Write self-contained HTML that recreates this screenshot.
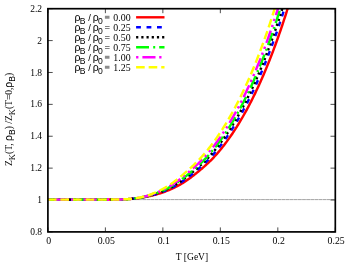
<!DOCTYPE html><html><head><meta charset="utf-8"><style>html,body{margin:0;padding:0;background:#fff}svg{display:block;will-change:transform}</style></head><body><svg width="353" height="263" viewBox="0 0 353 263">
<defs><clipPath id="c"><rect x="47.9" y="8.7" width="287.40000000000003" height="223.20000000000002"/></clipPath></defs>
<path d="M47.90,231.9 v-4.5 M47.90,8.7 v4.5 M105.38,231.9 v-4.5 M105.38,8.7 v4.5 M162.86,231.9 v-4.5 M162.86,8.7 v4.5 M220.34,231.9 v-4.5 M220.34,8.7 v4.5 M277.82,231.9 v-4.5 M277.82,8.7 v4.5 M335.30,231.9 v-4.5 M335.30,8.7 v4.5 M47.9,231.90 h4.8 M335.3,231.90 h-4.8 M47.9,200.01 h4.8 M335.3,200.01 h-4.8 M47.9,168.13 h4.8 M335.3,168.13 h-4.8 M47.9,136.24 h4.8 M335.3,136.24 h-4.8 M47.9,104.36 h4.8 M335.3,104.36 h-4.8 M47.9,72.47 h4.8 M335.3,72.47 h-4.8 M47.9,40.59 h4.8 M335.3,40.59 h-4.8 M47.9,8.70 h4.8 M335.3,8.70 h-4.8" stroke="#000" stroke-width="0.7" fill="none"/>
<line x1="47.9" y1="199.6" x2="335.3" y2="199.6" stroke="#333" stroke-width="0.45" stroke-dasharray="3.8 0.3"/>
<g clip-path="url(#c)"><path d="M47.90,199.60 L48.62,199.60 L49.34,199.60 L50.06,199.60 L50.78,199.60 L51.50,199.60 L52.22,199.60 L52.94,199.60 L53.66,199.60 L54.38,199.60 L55.10,199.60 L55.82,199.60 L56.54,199.60 L57.26,199.60 L57.98,199.60 L58.70,199.60 L59.42,199.60 L60.15,199.60 L60.87,199.60 L61.59,199.60 L62.31,199.60 L63.03,199.60 L63.75,199.60 L64.47,199.60 L65.19,199.60 L65.91,199.60 L66.63,199.60 L67.35,199.60 L68.07,199.60 L68.79,199.60 L69.51,199.60 L70.23,199.60 L70.95,199.60 L71.67,199.60 L72.39,199.60 L73.11,199.60 L73.83,199.60 L74.55,199.60 L75.27,199.60 L75.99,199.60 L76.71,199.60 L77.43,199.60 L78.15,199.60 L78.87,199.60 L79.59,199.60 L80.31,199.60 L81.03,199.60 L81.75,199.60 L82.47,199.60 L83.19,199.60 L83.92,199.60 L84.64,199.60 L85.36,199.60 L86.08,199.60 L86.80,199.60 L87.52,199.60 L88.24,199.60 L88.96,199.60 L89.68,199.60 L90.40,199.60 L91.12,199.60 L91.84,199.60 L92.56,199.60 L93.28,199.60 L94.00,199.60 L94.72,199.60 L95.44,199.60 L96.16,199.60 L96.88,199.60 L97.60,199.60 L98.32,199.60 L99.04,199.60 L99.76,199.60 L100.48,199.60 L101.20,199.60 L101.92,199.60 L102.64,199.60 L103.36,199.60 L104.08,199.60 L104.80,199.60 L105.52,199.60 L106.24,199.60 L106.96,199.60 L107.68,199.59 L108.41,199.59 L109.13,199.59 L109.85,199.59 L110.57,199.58 L111.29,199.58 L112.01,199.58 L112.73,199.57 L113.45,199.57 L114.17,199.56 L114.89,199.55 L115.61,199.54 L116.33,199.53 L117.05,199.52 L117.77,199.51 L118.49,199.49 L119.21,199.48 L119.93,199.46 L120.65,199.44 L121.37,199.42 L122.09,199.40 L122.81,199.37 L123.53,199.34 L124.25,199.31 L124.97,199.28 L125.69,199.24 L126.41,199.21 L127.13,199.16 L127.85,199.12 L128.57,199.07 L129.29,199.02 L130.01,198.97 L130.73,198.91 L131.45,198.85 L132.18,198.79 L132.90,198.73 L133.62,198.66 L134.34,198.58 L135.06,198.50 L135.78,198.42 L136.50,198.34 L137.22,198.25 L137.94,198.16 L138.66,198.06 L139.38,197.96 L140.10,197.86 L140.82,197.75 L141.54,197.64 L142.26,197.53 L142.98,197.41 L143.70,197.28 L144.42,197.16 L145.14,197.02 L145.86,196.89 L146.58,196.75 L147.30,196.60 L148.02,196.46 L148.74,196.30 L149.46,196.15 L150.18,195.98 L150.90,195.82 L151.62,195.65 L152.34,195.47 L153.06,195.29 L153.78,195.11 L154.50,194.92 L155.22,194.73 L155.95,194.53 L156.67,194.33 L157.39,194.12 L158.11,193.91 L158.83,193.69 L159.55,193.47 L160.27,193.24 L160.99,193.00 L161.71,192.77 L162.43,192.52 L163.15,192.27 L163.87,192.02 L164.59,191.76 L165.31,191.49 L166.03,191.22 L166.75,190.95 L167.47,190.66 L168.19,190.37 L168.91,190.08 L169.63,189.78 L170.35,189.47 L171.07,189.15 L171.79,188.83 L172.51,188.51 L173.23,188.17 L173.95,187.83 L174.67,187.48 L175.39,187.13 L176.11,186.76 L176.83,186.39 L177.55,186.01 L178.27,185.62 L178.99,185.23 L179.72,184.82 L180.44,184.41 L181.16,183.99 L181.88,183.56 L182.60,183.12 L183.32,182.67 L184.04,182.21 L184.76,181.75 L185.48,181.27 L186.20,180.78 L186.92,180.29 L187.64,179.79 L188.36,179.28 L189.08,178.76 L189.80,178.23 L190.52,177.70 L191.24,177.16 L191.96,176.61 L192.68,176.06 L193.40,175.50 L194.12,174.94 L194.84,174.37 L195.56,173.80 L196.28,173.22 L197.00,172.64 L197.72,172.05 L198.44,171.46 L199.16,170.87 L199.88,170.27 L200.60,169.67 L201.32,169.06 L202.04,168.45 L202.76,167.83 L203.48,167.20 L204.21,166.57 L204.93,165.93 L205.65,165.29 L206.37,164.63 L207.09,163.97 L207.81,163.30 L208.53,162.61 L209.25,161.92 L209.97,161.22 L210.69,160.51 L211.41,159.78 L212.13,159.05 L212.85,158.30 L213.57,157.54 L214.29,156.77 L215.01,155.99 L215.73,155.19 L216.45,154.39 L217.17,153.57 L217.89,152.74 L218.61,151.90 L219.33,151.04 L220.05,150.18 L220.77,149.30 L221.49,148.41 L222.21,147.51 L222.93,146.60 L223.65,145.67 L224.37,144.74 L225.09,143.79 L225.81,142.83 L226.53,141.86 L227.25,140.88 L227.98,139.89 L228.70,138.89 L229.42,137.87 L230.14,136.84 L230.86,135.80 L231.58,134.75 L232.30,133.69 L233.02,132.61 L233.74,131.52 L234.46,130.42 L235.18,129.31 L235.90,128.19 L236.62,127.05 L237.34,125.90 L238.06,124.74 L238.78,123.57 L239.50,122.38 L240.22,121.18 L240.94,119.97 L241.66,118.74 L242.38,117.50 L243.10,116.25 L243.82,114.98 L244.54,113.71 L245.26,112.41 L245.98,111.11 L246.70,109.79 L247.42,108.46 L248.14,107.11 L248.86,105.75 L249.58,104.37 L250.30,102.98 L251.02,101.58 L251.75,100.16 L252.47,98.73 L253.19,97.28 L253.91,95.82 L254.63,94.34 L255.35,92.85 L256.07,91.34 L256.79,89.82 L257.51,88.28 L258.23,86.73 L258.95,85.16 L259.67,83.58 L260.39,81.98 L261.11,80.36 L261.83,78.73 L262.55,77.08 L263.27,75.42 L263.99,73.73 L264.71,72.04 L265.43,70.32 L266.15,68.59 L266.87,66.85 L267.59,65.08 L268.31,63.30 L269.03,61.50 L269.75,59.68 L270.47,57.85 L271.19,56.00 L271.91,54.13 L272.63,52.24 L273.35,50.34 L274.07,48.41 L274.79,46.47 L275.52,44.51 L276.24,42.53 L276.96,40.53 L277.68,38.52 L278.40,36.48 L279.12,34.42 L279.84,32.35 L280.56,30.25 L281.28,28.14 L282.00,26.01 L282.72,23.85 L283.44,21.68 L284.16,19.49 L284.88,17.27 L285.60,15.04 L286.32,12.78 L287.04,10.50 L287.76,8.21 L288.48,5.89 L289.20,3.55 L289.92,1.18 L290.64,-1.20 L291.36,-3.61 L292.08,-6.04 L292.80,-8.49 L293.52,-10.96 L294.24,-13.45 L294.96,-15.97 L295.68,-18.51 L296.40,-21.08 L297.12,-23.67 L297.84,-26.28 L298.56,-28.91 L299.28,-31.57 L300.01,-34.25 L300.73,-36.96 L301.45,-39.69" fill="none" stroke="#ff0000" stroke-width="2.45"/><path d="M47.90,199.60 L48.62,199.60 L49.34,199.60 L50.06,199.60 L50.78,199.60 L51.50,199.60 L52.22,199.60 L52.94,199.60 L53.66,199.60 L54.38,199.60 L55.10,199.60 L55.82,199.60 L56.54,199.60 L57.26,199.60 L57.98,199.60 L58.70,199.60 L59.42,199.60 L60.15,199.60 L60.87,199.60 L61.59,199.60 L62.31,199.60 L63.03,199.60 L63.75,199.60 L64.47,199.60 L65.19,199.60 L65.91,199.60 L66.63,199.60 L67.35,199.60 L68.07,199.60 L68.79,199.60 L69.51,199.60 L70.23,199.60 L70.95,199.60 L71.67,199.60 L72.39,199.60 L73.11,199.60 L73.83,199.60 L74.55,199.60 L75.27,199.60 L75.99,199.60 L76.71,199.60 L77.43,199.60 L78.15,199.60 L78.87,199.60 L79.59,199.60 L80.31,199.60 L81.03,199.60 L81.75,199.60 L82.47,199.60 L83.19,199.60 L83.92,199.60 L84.64,199.60 L85.36,199.60 L86.08,199.60 L86.80,199.60 L87.52,199.60 L88.24,199.60 L88.96,199.60 L89.68,199.60 L90.40,199.60 L91.12,199.60 L91.84,199.60 L92.56,199.60 L93.28,199.60 L94.00,199.60 L94.72,199.60 L95.44,199.60 L96.16,199.60 L96.88,199.60 L97.60,199.60 L98.32,199.60 L99.04,199.60 L99.76,199.60 L100.48,199.60 L101.20,199.60 L101.92,199.60 L102.64,199.60 L103.36,199.60 L104.08,199.60 L104.80,199.60 L105.52,199.60 L106.24,199.60 L106.96,199.60 L107.68,199.59 L108.41,199.59 L109.13,199.59 L109.85,199.59 L110.57,199.58 L111.29,199.58 L112.01,199.58 L112.73,199.57 L113.45,199.57 L114.17,199.56 L114.89,199.55 L115.61,199.54 L116.33,199.53 L117.05,199.52 L117.77,199.51 L118.49,199.49 L119.21,199.48 L119.93,199.46 L120.65,199.44 L121.37,199.42 L122.09,199.40 L122.81,199.37 L123.53,199.34 L124.25,199.31 L124.97,199.28 L125.69,199.24 L126.41,199.21 L127.13,199.16 L127.85,199.12 L128.57,199.07 L129.29,199.02 L130.01,198.97 L130.73,198.91 L131.45,198.85 L132.18,198.78 L132.90,198.71 L133.62,198.63 L134.34,198.55 L135.06,198.47 L135.78,198.38 L136.50,198.29 L137.22,198.19 L137.94,198.09 L138.66,197.99 L139.38,197.88 L140.10,197.76 L140.82,197.64 L141.54,197.52 L142.26,197.39 L142.98,197.26 L143.70,197.12 L144.42,196.97 L145.14,196.83 L145.86,196.67 L146.58,196.52 L147.30,196.35 L148.02,196.19 L148.74,196.02 L149.46,195.84 L150.18,195.66 L150.90,195.47 L151.62,195.28 L152.34,195.08 L153.06,194.88 L153.78,194.67 L154.50,194.46 L155.22,194.24 L155.95,194.02 L156.67,193.79 L157.39,193.56 L158.11,193.32 L158.83,193.07 L159.55,192.82 L160.27,192.56 L160.99,192.30 L161.71,192.04 L162.43,191.76 L163.15,191.48 L163.87,191.20 L164.59,190.91 L165.31,190.61 L166.03,190.31 L166.75,190.00 L167.47,189.68 L168.19,189.36 L168.91,189.03 L169.63,188.69 L170.35,188.35 L171.07,188.00 L171.79,187.64 L172.51,187.28 L173.23,186.90 L173.95,186.52 L174.67,186.13 L175.39,185.74 L176.11,185.33 L176.83,184.92 L177.55,184.50 L178.27,184.06 L178.99,183.62 L179.72,183.18 L180.44,182.72 L181.16,182.25 L181.88,181.77 L182.60,181.29 L183.32,180.79 L184.04,180.29 L184.76,179.78 L185.48,179.26 L186.20,178.73 L186.92,178.19 L187.64,177.65 L188.36,177.10 L189.08,176.55 L189.80,175.98 L190.52,175.42 L191.24,174.85 L191.96,174.27 L192.68,173.69 L193.40,173.10 L194.12,172.51 L194.84,171.92 L195.56,171.32 L196.28,170.72 L197.00,170.12 L197.72,169.51 L198.44,168.89 L199.16,168.27 L199.88,167.65 L200.60,167.02 L201.32,166.38 L202.04,165.73 L202.76,165.08 L203.48,164.42 L204.21,163.75 L204.93,163.07 L205.65,162.38 L206.37,161.68 L207.09,160.97 L207.81,160.25 L208.53,159.52 L209.25,158.78 L209.97,158.02 L210.69,157.25 L211.41,156.48 L212.13,155.69 L212.85,154.89 L213.57,154.07 L214.29,153.25 L215.01,152.41 L215.73,151.56 L216.45,150.70 L217.17,149.83 L217.89,148.94 L218.61,148.05 L219.33,147.14 L220.05,146.22 L220.77,145.29 L221.49,144.35 L222.21,143.40 L222.93,142.43 L223.65,141.46 L224.37,140.47 L225.09,139.47 L225.81,138.46 L226.53,137.44 L227.25,136.40 L227.98,135.36 L228.70,134.30 L229.42,133.23 L230.14,132.15 L230.86,131.05 L231.58,129.95 L232.30,128.83 L233.02,127.70 L233.74,126.56 L234.46,125.40 L235.18,124.23 L235.90,123.05 L236.62,121.86 L237.34,120.65 L238.06,119.43 L238.78,118.20 L239.50,116.96 L240.22,115.70 L240.94,114.43 L241.66,113.14 L242.38,111.84 L243.10,110.53 L243.82,109.21 L244.54,107.87 L245.26,106.51 L245.98,105.15 L246.70,103.76 L247.42,102.37 L248.14,100.96 L248.86,99.53 L249.58,98.09 L250.30,96.64 L251.02,95.17 L251.75,93.69 L252.47,92.19 L253.19,90.67 L253.91,89.14 L254.63,87.60 L255.35,86.04 L256.07,84.46 L256.79,82.87 L257.51,81.26 L258.23,79.64 L258.95,78.00 L259.67,76.35 L260.39,74.68 L261.11,72.99 L261.83,71.28 L262.55,69.56 L263.27,67.82 L263.99,66.07 L264.71,64.30 L265.43,62.51 L266.15,60.70 L266.87,58.88 L267.59,57.03 L268.31,55.17 L269.03,53.30 L269.75,51.40 L270.47,49.49 L271.19,47.56 L271.91,45.61 L272.63,43.64 L273.35,41.65 L274.07,39.64 L274.79,37.62 L275.52,35.57 L276.24,33.51 L276.96,31.43 L277.68,29.32 L278.40,27.20 L279.12,25.06 L279.84,22.89 L280.56,20.71 L281.28,18.51 L282.00,16.28 L282.72,14.04 L283.44,11.78 L284.16,9.49 L284.88,7.18 L285.60,4.85 L286.32,2.50 L287.04,0.13 L287.76,-2.26 L288.48,-4.68 L289.20,-7.12 L289.92,-9.58 L290.64,-12.06 L291.36,-14.57 L292.08,-17.09 L292.80,-19.65 L293.52,-22.22 L294.24,-24.82 L294.96,-27.44 L295.68,-30.09 L296.40,-32.75 L297.12,-35.45 L297.84,-38.17" fill="none" stroke="#0000ff" stroke-width="2.45" stroke-dasharray="4.8 5.65" stroke-dashoffset="0"/><path d="M47.90,199.60 L48.62,199.60 L49.34,199.60 L50.06,199.60 L50.78,199.60 L51.50,199.60 L52.22,199.60 L52.94,199.60 L53.66,199.60 L54.38,199.60 L55.10,199.60 L55.82,199.60 L56.54,199.60 L57.26,199.60 L57.98,199.60 L58.70,199.60 L59.42,199.60 L60.15,199.60 L60.87,199.60 L61.59,199.60 L62.31,199.60 L63.03,199.60 L63.75,199.60 L64.47,199.60 L65.19,199.60 L65.91,199.60 L66.63,199.60 L67.35,199.60 L68.07,199.60 L68.79,199.60 L69.51,199.60 L70.23,199.60 L70.95,199.60 L71.67,199.60 L72.39,199.60 L73.11,199.60 L73.83,199.60 L74.55,199.60 L75.27,199.60 L75.99,199.60 L76.71,199.60 L77.43,199.60 L78.15,199.60 L78.87,199.60 L79.59,199.60 L80.31,199.60 L81.03,199.60 L81.75,199.60 L82.47,199.60 L83.19,199.60 L83.92,199.60 L84.64,199.60 L85.36,199.60 L86.08,199.60 L86.80,199.60 L87.52,199.60 L88.24,199.60 L88.96,199.60 L89.68,199.60 L90.40,199.60 L91.12,199.60 L91.84,199.60 L92.56,199.60 L93.28,199.60 L94.00,199.60 L94.72,199.60 L95.44,199.60 L96.16,199.60 L96.88,199.60 L97.60,199.60 L98.32,199.60 L99.04,199.60 L99.76,199.60 L100.48,199.60 L101.20,199.60 L101.92,199.60 L102.64,199.60 L103.36,199.60 L104.08,199.60 L104.80,199.60 L105.52,199.60 L106.24,199.60 L106.96,199.60 L107.68,199.59 L108.41,199.59 L109.13,199.59 L109.85,199.59 L110.57,199.58 L111.29,199.58 L112.01,199.58 L112.73,199.57 L113.45,199.57 L114.17,199.56 L114.89,199.55 L115.61,199.54 L116.33,199.53 L117.05,199.52 L117.77,199.51 L118.49,199.49 L119.21,199.48 L119.93,199.46 L120.65,199.44 L121.37,199.42 L122.09,199.40 L122.81,199.37 L123.53,199.34 L124.25,199.31 L124.97,199.28 L125.69,199.24 L126.41,199.21 L127.13,199.16 L127.85,199.12 L128.57,199.07 L129.29,199.02 L130.01,198.96 L130.73,198.90 L131.45,198.84 L132.18,198.77 L132.90,198.70 L133.62,198.62 L134.34,198.53 L135.06,198.45 L135.78,198.35 L136.50,198.26 L137.22,198.15 L137.94,198.05 L138.66,197.93 L139.38,197.82 L140.10,197.69 L140.82,197.57 L141.54,197.43 L142.26,197.30 L142.98,197.15 L143.70,197.01 L144.42,196.85 L145.14,196.69 L145.86,196.53 L146.58,196.36 L147.30,196.18 L148.02,196.00 L148.74,195.82 L149.46,195.63 L150.18,195.43 L150.90,195.23 L151.62,195.02 L152.34,194.81 L153.06,194.59 L153.78,194.37 L154.50,194.14 L155.22,193.91 L155.95,193.67 L156.67,193.42 L157.39,193.17 L158.11,192.91 L158.83,192.65 L159.55,192.38 L160.27,192.10 L160.99,191.82 L161.71,191.53 L162.43,191.24 L163.15,190.94 L163.87,190.63 L164.59,190.32 L165.31,190.00 L166.03,189.67 L166.75,189.34 L167.47,189.00 L168.19,188.65 L168.91,188.30 L169.63,187.94 L170.35,187.57 L171.07,187.19 L171.79,186.81 L172.51,186.42 L173.23,186.02 L173.95,185.61 L174.67,185.19 L175.39,184.76 L176.11,184.33 L176.83,183.89 L177.55,183.43 L178.27,182.97 L178.99,182.50 L179.72,182.02 L180.44,181.53 L181.16,181.03 L181.88,180.52 L182.60,180.01 L183.32,179.48 L184.04,178.95 L184.76,178.41 L185.48,177.86 L186.20,177.31 L186.92,176.75 L187.64,176.18 L188.36,175.61 L189.08,175.04 L189.80,174.45 L190.52,173.87 L191.24,173.28 L191.96,172.69 L192.68,172.09 L193.40,171.49 L194.12,170.88 L194.84,170.27 L195.56,169.66 L196.28,169.04 L197.00,168.42 L197.72,167.79 L198.44,167.15 L199.16,166.51 L199.88,165.86 L200.60,165.21 L201.32,164.55 L202.04,163.87 L202.76,163.19 L203.48,162.50 L204.21,161.80 L204.93,161.09 L205.65,160.37 L206.37,159.64 L207.09,158.89 L207.81,158.14 L208.53,157.37 L209.25,156.59 L209.97,155.80 L210.69,155.00 L211.41,154.18 L212.13,153.36 L212.85,152.52 L213.57,151.67 L214.29,150.81 L215.01,149.94 L215.73,149.05 L216.45,148.16 L217.17,147.25 L217.89,146.33 L218.61,145.40 L219.33,144.46 L220.05,143.50 L220.77,142.54 L221.49,141.56 L222.21,140.58 L222.93,139.58 L223.65,138.57 L224.37,137.54 L225.09,136.51 L225.81,135.46 L226.53,134.41 L227.25,133.34 L227.98,132.25 L228.70,131.16 L229.42,130.06 L230.14,128.94 L230.86,127.81 L231.58,126.67 L232.30,125.51 L233.02,124.34 L233.74,123.16 L234.46,121.97 L235.18,120.77 L235.90,119.55 L236.62,118.32 L237.34,117.07 L238.06,115.81 L238.78,114.54 L239.50,113.26 L240.22,111.96 L240.94,110.65 L241.66,109.33 L242.38,107.99 L243.10,106.63 L243.82,105.27 L244.54,103.89 L245.26,102.49 L245.98,101.08 L246.70,99.66 L247.42,98.22 L248.14,96.77 L248.86,95.30 L249.58,93.81 L250.30,92.32 L251.02,90.80 L251.75,89.28 L252.47,87.73 L253.19,86.17 L253.91,84.60 L254.63,83.01 L255.35,81.40 L256.07,79.78 L256.79,78.14 L257.51,76.49 L258.23,74.82 L258.95,73.13 L259.67,71.43 L260.39,69.71 L261.11,67.97 L261.83,66.22 L262.55,64.45 L263.27,62.66 L263.99,60.85 L264.71,59.03 L265.43,57.19 L266.15,55.33 L266.87,53.46 L267.59,51.56 L268.31,49.65 L269.03,47.72 L269.75,45.77 L270.47,43.80 L271.19,41.82 L271.91,39.81 L272.63,37.79 L273.35,35.75 L274.07,33.68 L274.79,31.60 L275.52,29.50 L276.24,27.38 L276.96,25.24 L277.68,23.08 L278.40,20.90 L279.12,18.70 L279.84,16.47 L280.56,14.23 L281.28,11.97 L282.00,9.68 L282.72,7.38 L283.44,5.05 L284.16,2.70 L284.88,0.33 L285.60,-2.06 L286.32,-4.47 L287.04,-6.91 L287.76,-9.37 L288.48,-11.85 L289.20,-14.35 L289.92,-16.88 L290.64,-19.43 L291.36,-22.00 L292.08,-24.60 L292.80,-27.22 L293.52,-29.86 L294.24,-32.53 L294.96,-35.22 L295.68,-37.94" fill="none" stroke="#000000" stroke-width="2.45" stroke-dasharray="2.2 3.0" stroke-dashoffset="0"/><path d="M47.90,199.60 L48.62,199.60 L49.34,199.60 L50.06,199.60 L50.78,199.60 L51.50,199.60 L52.22,199.60 L52.94,199.60 L53.66,199.60 L54.38,199.60 L55.10,199.60 L55.82,199.60 L56.54,199.60 L57.26,199.60 L57.98,199.60 L58.70,199.60 L59.42,199.60 L60.15,199.60 L60.87,199.60 L61.59,199.60 L62.31,199.60 L63.03,199.60 L63.75,199.60 L64.47,199.60 L65.19,199.60 L65.91,199.60 L66.63,199.60 L67.35,199.60 L68.07,199.60 L68.79,199.60 L69.51,199.60 L70.23,199.60 L70.95,199.60 L71.67,199.60 L72.39,199.60 L73.11,199.60 L73.83,199.60 L74.55,199.60 L75.27,199.60 L75.99,199.60 L76.71,199.60 L77.43,199.60 L78.15,199.60 L78.87,199.60 L79.59,199.60 L80.31,199.60 L81.03,199.60 L81.75,199.60 L82.47,199.60 L83.19,199.60 L83.92,199.60 L84.64,199.60 L85.36,199.60 L86.08,199.60 L86.80,199.60 L87.52,199.60 L88.24,199.60 L88.96,199.60 L89.68,199.60 L90.40,199.60 L91.12,199.60 L91.84,199.60 L92.56,199.60 L93.28,199.60 L94.00,199.60 L94.72,199.60 L95.44,199.60 L96.16,199.60 L96.88,199.60 L97.60,199.60 L98.32,199.60 L99.04,199.60 L99.76,199.60 L100.48,199.60 L101.20,199.60 L101.92,199.60 L102.64,199.60 L103.36,199.60 L104.08,199.60 L104.80,199.60 L105.52,199.60 L106.24,199.60 L106.96,199.60 L107.68,199.59 L108.41,199.59 L109.13,199.59 L109.85,199.59 L110.57,199.58 L111.29,199.58 L112.01,199.58 L112.73,199.57 L113.45,199.57 L114.17,199.56 L114.89,199.55 L115.61,199.54 L116.33,199.53 L117.05,199.52 L117.77,199.51 L118.49,199.49 L119.21,199.48 L119.93,199.46 L120.65,199.44 L121.37,199.42 L122.09,199.40 L122.81,199.37 L123.53,199.34 L124.25,199.31 L124.97,199.28 L125.69,199.24 L126.41,199.21 L127.13,199.16 L127.85,199.12 L128.57,199.07 L129.29,199.02 L130.01,198.96 L130.73,198.90 L131.45,198.83 L132.18,198.76 L132.90,198.68 L133.62,198.60 L134.34,198.52 L135.06,198.42 L135.78,198.33 L136.50,198.22 L137.22,198.12 L137.94,198.00 L138.66,197.88 L139.38,197.76 L140.10,197.63 L140.82,197.49 L141.54,197.35 L142.26,197.21 L142.98,197.05 L143.70,196.90 L144.42,196.73 L145.14,196.56 L145.86,196.39 L146.58,196.21 L147.30,196.02 L148.02,195.83 L148.74,195.63 L149.46,195.42 L150.18,195.21 L150.90,195.00 L151.62,194.77 L152.34,194.55 L153.06,194.31 L153.78,194.07 L154.50,193.83 L155.22,193.58 L155.95,193.32 L156.67,193.05 L157.39,192.78 L158.11,192.51 L158.83,192.22 L159.55,191.94 L160.27,191.64 L160.99,191.34 L161.71,191.03 L162.43,190.72 L163.15,190.39 L163.87,190.07 L164.59,189.73 L165.31,189.39 L166.03,189.04 L166.75,188.68 L167.47,188.32 L168.19,187.95 L168.91,187.57 L169.63,187.18 L170.35,186.79 L171.07,186.39 L171.79,185.98 L172.51,185.56 L173.23,185.13 L173.95,184.69 L174.67,184.25 L175.39,183.79 L176.11,183.33 L176.83,182.85 L177.55,182.37 L178.27,181.88 L178.99,181.38 L179.72,180.86 L180.44,180.35 L181.16,179.82 L181.88,179.28 L182.60,178.74 L183.32,178.19 L184.04,177.63 L184.76,177.06 L185.48,176.49 L186.20,175.92 L186.92,175.33 L187.64,174.75 L188.36,174.16 L189.08,173.56 L189.80,172.96 L190.52,172.36 L191.24,171.76 L191.96,171.15 L192.68,170.53 L193.40,169.92 L194.12,169.29 L194.84,168.67 L195.56,168.04 L196.28,167.40 L197.00,166.76 L197.72,166.11 L198.44,165.45 L199.16,164.78 L199.88,164.11 L200.60,163.43 L201.32,162.74 L202.04,162.04 L202.76,161.33 L203.48,160.60 L204.21,159.87 L204.93,159.13 L205.65,158.37 L206.37,157.61 L207.09,156.83 L207.81,156.04 L208.53,155.24 L209.25,154.42 L209.97,153.60 L210.69,152.76 L211.41,151.91 L212.13,151.05 L212.85,150.18 L213.57,149.29 L214.29,148.40 L215.01,147.49 L215.73,146.57 L216.45,145.64 L217.17,144.70 L217.89,143.75 L218.61,142.79 L219.33,141.81 L220.05,140.83 L220.77,139.83 L221.49,138.82 L222.21,137.80 L222.93,136.77 L223.65,135.72 L224.37,134.66 L225.09,133.60 L225.81,132.52 L226.53,131.43 L227.25,130.32 L227.98,129.21 L228.70,128.08 L229.42,126.94 L230.14,125.79 L230.86,124.62 L231.58,123.44 L232.30,122.25 L233.02,121.05 L233.74,119.83 L234.46,118.60 L235.18,117.36 L235.90,116.11 L236.62,114.84 L237.34,113.56 L238.06,112.26 L238.78,110.95 L239.50,109.63 L240.22,108.29 L240.94,106.94 L241.66,105.58 L242.38,104.20 L243.10,102.81 L243.82,101.40 L244.54,99.98 L245.26,98.55 L245.98,97.10 L246.70,95.63 L247.42,94.15 L248.14,92.66 L248.86,91.15 L249.58,89.62 L250.30,88.08 L251.02,86.53 L251.75,84.96 L252.47,83.37 L253.19,81.77 L253.91,80.15 L254.63,78.51 L255.35,76.86 L256.07,75.20 L256.79,73.51 L257.51,71.81 L258.23,70.10 L258.95,68.36 L259.67,66.61 L260.39,64.85 L261.11,63.06 L261.83,61.26 L262.55,59.44 L263.27,57.60 L263.99,55.75 L264.71,53.88 L265.43,51.99 L266.15,50.08 L266.87,48.15 L267.59,46.21 L268.31,44.25 L269.03,42.26 L269.75,40.26 L270.47,38.24 L271.19,36.21 L271.91,34.15 L272.63,32.07 L273.35,29.97 L274.07,27.86 L274.79,25.72 L275.52,23.56 L276.24,21.39 L276.96,19.19 L277.68,16.97 L278.40,14.73 L279.12,12.48 L279.84,10.20 L280.56,7.89 L281.28,5.57 L282.00,3.23 L282.72,0.86 L283.44,-1.52 L284.16,-3.93 L284.88,-6.36 L285.60,-8.82 L286.32,-11.29 L287.04,-13.79 L287.76,-16.31 L288.48,-18.86 L289.20,-21.42 L289.92,-24.02 L290.64,-26.63 L291.36,-29.27 L292.08,-31.93 L292.80,-34.62 L293.52,-37.33" fill="none" stroke="#00ff00" stroke-width="2.45" stroke-dasharray="12.9 4.2 2 4" stroke-dashoffset="0"/><path d="M47.90,199.60 L48.62,199.60 L49.34,199.60 L50.06,199.60 L50.78,199.60 L51.50,199.60 L52.22,199.60 L52.94,199.60 L53.66,199.60 L54.38,199.60 L55.10,199.60 L55.82,199.60 L56.54,199.60 L57.26,199.60 L57.98,199.60 L58.70,199.60 L59.42,199.60 L60.15,199.60 L60.87,199.60 L61.59,199.60 L62.31,199.60 L63.03,199.60 L63.75,199.60 L64.47,199.60 L65.19,199.60 L65.91,199.60 L66.63,199.60 L67.35,199.60 L68.07,199.60 L68.79,199.60 L69.51,199.60 L70.23,199.60 L70.95,199.60 L71.67,199.60 L72.39,199.60 L73.11,199.60 L73.83,199.60 L74.55,199.60 L75.27,199.60 L75.99,199.60 L76.71,199.60 L77.43,199.60 L78.15,199.60 L78.87,199.60 L79.59,199.60 L80.31,199.60 L81.03,199.60 L81.75,199.60 L82.47,199.60 L83.19,199.60 L83.92,199.60 L84.64,199.60 L85.36,199.60 L86.08,199.60 L86.80,199.60 L87.52,199.60 L88.24,199.60 L88.96,199.60 L89.68,199.60 L90.40,199.60 L91.12,199.60 L91.84,199.60 L92.56,199.60 L93.28,199.60 L94.00,199.60 L94.72,199.60 L95.44,199.60 L96.16,199.60 L96.88,199.60 L97.60,199.60 L98.32,199.60 L99.04,199.60 L99.76,199.60 L100.48,199.60 L101.20,199.60 L101.92,199.60 L102.64,199.60 L103.36,199.60 L104.08,199.60 L104.80,199.60 L105.52,199.60 L106.24,199.60 L106.96,199.60 L107.68,199.59 L108.41,199.59 L109.13,199.59 L109.85,199.59 L110.57,199.58 L111.29,199.58 L112.01,199.58 L112.73,199.57 L113.45,199.57 L114.17,199.56 L114.89,199.55 L115.61,199.54 L116.33,199.53 L117.05,199.52 L117.77,199.51 L118.49,199.49 L119.21,199.48 L119.93,199.46 L120.65,199.44 L121.37,199.42 L122.09,199.40 L122.81,199.37 L123.53,199.34 L124.25,199.31 L124.97,199.28 L125.69,199.24 L126.41,199.21 L127.13,199.16 L127.85,199.12 L128.57,199.07 L129.29,199.02 L130.01,198.96 L130.73,198.89 L131.45,198.83 L132.18,198.75 L132.90,198.67 L133.62,198.59 L134.34,198.49 L135.06,198.40 L135.78,198.29 L136.50,198.19 L137.22,198.07 L137.94,197.95 L138.66,197.82 L139.38,197.69 L140.10,197.55 L140.82,197.40 L141.54,197.25 L142.26,197.09 L142.98,196.93 L143.70,196.76 L144.42,196.58 L145.14,196.40 L145.86,196.21 L146.58,196.01 L147.30,195.81 L148.02,195.60 L148.74,195.39 L149.46,195.17 L150.18,194.94 L150.90,194.70 L151.62,194.46 L152.34,194.22 L153.06,193.96 L153.78,193.70 L154.50,193.44 L155.22,193.16 L155.95,192.88 L156.67,192.60 L157.39,192.30 L158.11,192.00 L158.83,191.70 L159.55,191.38 L160.27,191.06 L160.99,190.74 L161.71,190.40 L162.43,190.06 L163.15,189.71 L163.87,189.36 L164.59,188.99 L165.31,188.62 L166.03,188.25 L166.75,187.86 L167.47,187.47 L168.19,187.06 L168.91,186.65 L169.63,186.24 L170.35,185.81 L171.07,185.37 L171.79,184.93 L172.51,184.47 L173.23,184.01 L173.95,183.53 L174.67,183.05 L175.39,182.56 L176.11,182.06 L176.83,181.55 L177.55,181.02 L178.27,180.50 L178.99,179.96 L179.72,179.41 L180.44,178.86 L181.16,178.30 L181.88,177.73 L182.60,177.15 L183.32,176.57 L184.04,175.98 L184.76,175.39 L185.48,174.80 L186.20,174.20 L186.92,173.59 L187.64,172.98 L188.36,172.37 L189.08,171.76 L189.80,171.14 L190.52,170.52 L191.24,169.89 L191.96,169.26 L192.68,168.63 L193.40,167.99 L194.12,167.34 L194.84,166.69 L195.56,166.03 L196.28,165.37 L197.00,164.70 L197.72,164.02 L198.44,163.33 L199.16,162.63 L199.88,161.92 L200.60,161.20 L201.32,160.47 L202.04,159.73 L202.76,158.98 L203.48,158.22 L204.21,157.44 L204.93,156.66 L205.65,155.86 L206.37,155.05 L207.09,154.23 L207.81,153.40 L208.53,152.56 L209.25,151.70 L209.97,150.83 L210.69,149.95 L211.41,149.06 L212.13,148.16 L212.85,147.25 L213.57,146.33 L214.29,145.39 L215.01,144.44 L215.73,143.48 L216.45,142.51 L217.17,141.53 L217.89,140.54 L218.61,139.54 L219.33,138.52 L220.05,137.50 L220.77,136.46 L221.49,135.41 L222.21,134.35 L222.93,133.27 L223.65,132.19 L224.37,131.09 L225.09,129.98 L225.81,128.86 L226.53,127.73 L227.25,126.58 L227.98,125.42 L228.70,124.25 L229.42,123.07 L230.14,121.87 L230.86,120.67 L231.58,119.45 L232.30,118.21 L233.02,116.96 L233.74,115.70 L234.46,114.43 L235.18,113.14 L235.90,111.84 L236.62,110.53 L237.34,109.20 L238.06,107.86 L238.78,106.50 L239.50,105.13 L240.22,103.75 L240.94,102.35 L241.66,100.94 L242.38,99.52 L243.10,98.08 L243.82,96.62 L244.54,95.15 L245.26,93.66 L245.98,92.16 L246.70,90.65 L247.42,89.12 L248.14,87.57 L248.86,86.01 L249.58,84.44 L250.30,82.84 L251.02,81.24 L251.75,79.61 L252.47,77.97 L253.19,76.32 L253.91,74.64 L254.63,72.95 L255.35,71.25 L256.07,69.53 L256.79,67.79 L257.51,66.03 L258.23,64.26 L258.95,62.47 L259.67,60.66 L260.39,58.84 L261.11,56.99 L261.83,55.13 L262.55,53.25 L263.27,51.36 L263.99,49.44 L264.71,47.51 L265.43,45.56 L266.15,43.59 L266.87,41.60 L267.59,39.60 L268.31,37.57 L269.03,35.53 L269.75,33.46 L270.47,31.38 L271.19,29.27 L271.91,27.15 L272.63,25.01 L273.35,22.84 L274.07,20.66 L274.79,18.46 L275.52,16.23 L276.24,13.99 L276.96,11.72 L277.68,9.43 L278.40,7.13 L279.12,4.80 L279.84,2.45 L280.56,0.07 L281.28,-2.32 L282.00,-4.74 L282.72,-7.18 L283.44,-9.64 L284.16,-12.12 L284.88,-14.63 L285.60,-17.15 L286.32,-19.71 L287.04,-22.28 L287.76,-24.88 L288.48,-27.50 L289.20,-30.15 L289.92,-32.82 L290.64,-35.51 L291.36,-38.23" fill="none" stroke="#ff00ff" stroke-width="2.45" stroke-dasharray="13.1 3.7 2.3 4 2.3 4" stroke-dashoffset="23.1"/><path d="M47.90,199.60 L48.62,199.60 L49.34,199.60 L50.06,199.60 L50.78,199.60 L51.50,199.60 L52.22,199.60 L52.94,199.60 L53.66,199.60 L54.38,199.60 L55.10,199.60 L55.82,199.60 L56.54,199.60 L57.26,199.60 L57.98,199.60 L58.70,199.60 L59.42,199.60 L60.15,199.60 L60.87,199.60 L61.59,199.60 L62.31,199.60 L63.03,199.60 L63.75,199.60 L64.47,199.60 L65.19,199.60 L65.91,199.60 L66.63,199.60 L67.35,199.60 L68.07,199.60 L68.79,199.60 L69.51,199.60 L70.23,199.60 L70.95,199.60 L71.67,199.60 L72.39,199.60 L73.11,199.60 L73.83,199.60 L74.55,199.60 L75.27,199.60 L75.99,199.60 L76.71,199.60 L77.43,199.60 L78.15,199.60 L78.87,199.60 L79.59,199.60 L80.31,199.60 L81.03,199.60 L81.75,199.60 L82.47,199.60 L83.19,199.60 L83.92,199.60 L84.64,199.60 L85.36,199.60 L86.08,199.60 L86.80,199.60 L87.52,199.60 L88.24,199.60 L88.96,199.60 L89.68,199.60 L90.40,199.60 L91.12,199.60 L91.84,199.60 L92.56,199.60 L93.28,199.60 L94.00,199.60 L94.72,199.60 L95.44,199.60 L96.16,199.60 L96.88,199.60 L97.60,199.60 L98.32,199.60 L99.04,199.60 L99.76,199.60 L100.48,199.60 L101.20,199.60 L101.92,199.60 L102.64,199.60 L103.36,199.60 L104.08,199.60 L104.80,199.60 L105.52,199.60 L106.24,199.60 L106.96,199.60 L107.68,199.59 L108.41,199.59 L109.13,199.59 L109.85,199.59 L110.57,199.58 L111.29,199.58 L112.01,199.58 L112.73,199.57 L113.45,199.57 L114.17,199.56 L114.89,199.55 L115.61,199.54 L116.33,199.53 L117.05,199.52 L117.77,199.51 L118.49,199.49 L119.21,199.48 L119.93,199.46 L120.65,199.44 L121.37,199.42 L122.09,199.40 L122.81,199.37 L123.53,199.34 L124.25,199.31 L124.97,199.28 L125.69,199.24 L126.41,199.21 L127.13,199.16 L127.85,199.12 L128.57,199.07 L129.29,199.02 L130.01,198.96 L130.73,198.89 L131.45,198.82 L132.18,198.74 L132.90,198.65 L133.62,198.56 L134.34,198.46 L135.06,198.36 L135.78,198.25 L136.50,198.13 L137.22,198.01 L137.94,197.88 L138.66,197.74 L139.38,197.59 L140.10,197.44 L140.82,197.28 L141.54,197.12 L142.26,196.94 L142.98,196.76 L143.70,196.57 L144.42,196.38 L145.14,196.18 L145.86,195.97 L146.58,195.75 L147.30,195.53 L148.02,195.30 L148.74,195.06 L149.46,194.81 L150.18,194.56 L150.90,194.30 L151.62,194.03 L152.34,193.76 L153.06,193.48 L153.78,193.19 L154.50,192.89 L155.22,192.59 L155.95,192.28 L156.67,191.96 L157.39,191.63 L158.11,191.30 L158.83,190.96 L159.55,190.61 L160.27,190.25 L160.99,189.89 L161.71,189.52 L162.43,189.14 L163.15,188.75 L163.87,188.36 L164.59,187.96 L165.31,187.54 L166.03,187.12 L166.75,186.69 L167.47,186.26 L168.19,185.81 L168.91,185.35 L169.63,184.89 L170.35,184.41 L171.07,183.92 L171.79,183.43 L172.51,182.92 L173.23,182.41 L173.95,181.88 L174.67,181.35 L175.39,180.81 L176.11,180.25 L176.83,179.69 L177.55,179.12 L178.27,178.55 L178.99,177.96 L179.72,177.37 L180.44,176.77 L181.16,176.17 L181.88,175.56 L182.60,174.95 L183.32,174.34 L184.04,173.72 L184.76,173.09 L185.48,172.47 L186.20,171.84 L186.92,171.20 L187.64,170.57 L188.36,169.93 L189.08,169.29 L189.80,168.64 L190.52,167.99 L191.24,167.33 L191.96,166.67 L192.68,166.00 L193.40,165.32 L194.12,164.64 L194.84,163.95 L195.56,163.24 L196.28,162.53 L197.00,161.81 L197.72,161.08 L198.44,160.34 L199.16,159.59 L199.88,158.83 L200.60,158.06 L201.32,157.27 L202.04,156.48 L202.76,155.67 L203.48,154.85 L204.21,154.02 L204.93,153.17 L205.65,152.32 L206.37,151.45 L207.09,150.58 L207.81,149.69 L208.53,148.79 L209.25,147.88 L209.97,146.95 L210.69,146.02 L211.41,145.07 L212.13,144.12 L212.85,143.15 L213.57,142.17 L214.29,141.18 L215.01,140.18 L215.73,139.17 L216.45,138.15 L217.17,137.11 L217.89,136.06 L218.61,135.01 L219.33,133.94 L220.05,132.86 L220.77,131.76 L221.49,130.66 L222.21,129.54 L222.93,128.41 L223.65,127.27 L224.37,126.12 L225.09,124.95 L225.81,123.77 L226.53,122.58 L227.25,121.38 L227.98,120.16 L228.70,118.94 L229.42,117.69 L230.14,116.44 L230.86,115.17 L231.58,113.89 L232.30,112.60 L233.02,111.29 L233.74,109.97 L234.46,108.63 L235.18,107.28 L235.90,105.92 L236.62,104.54 L237.34,103.15 L238.06,101.75 L238.78,100.33 L239.50,98.90 L240.22,97.45 L240.94,95.99 L241.66,94.51 L242.38,93.02 L243.10,91.51 L243.82,89.99 L244.54,88.45 L245.26,86.90 L245.98,85.33 L246.70,83.74 L247.42,82.14 L248.14,80.53 L248.86,78.90 L249.58,77.25 L250.30,75.58 L251.02,73.90 L251.75,72.21 L252.47,70.49 L253.19,68.76 L253.91,67.02 L254.63,65.25 L255.35,63.47 L256.07,61.67 L256.79,59.86 L257.51,58.03 L258.23,56.18 L258.95,54.31 L259.67,52.42 L260.39,50.52 L261.11,48.59 L261.83,46.65 L262.55,44.69 L263.27,42.72 L263.99,40.72 L264.71,38.70 L265.43,36.67 L266.15,34.62 L266.87,32.54 L267.59,30.45 L268.31,28.34 L269.03,26.21 L269.75,24.05 L270.47,21.88 L271.19,19.69 L271.91,17.48 L272.63,15.24 L273.35,12.99 L274.07,10.71 L274.79,8.42 L275.52,6.10 L276.24,3.76 L276.96,1.40 L277.68,-0.98 L278.40,-3.39 L279.12,-5.81 L279.84,-8.26 L280.56,-10.73 L281.28,-13.23 L282.00,-15.74 L282.72,-18.28 L283.44,-20.84 L284.16,-23.43 L284.88,-26.04 L285.60,-28.67 L286.32,-31.33 L287.04,-34.01 L287.76,-36.71 L288.48,-39.44" fill="none" stroke="#ffff00" stroke-width="2.45" stroke-dasharray="8.6 3.96" stroke-dashoffset="0"/></g>
<rect x="47.9" y="8.7" width="287.40000000000003" height="223.20000000000002" fill="none" stroke="#000" stroke-width="1.7"/>
<g font-family="Liberation Serif, serif" font-size="9.5" fill="#000" opacity="0.999">
<text x="48.80" y="244.4" font-size="9.8" text-anchor="middle">0</text>
<text x="106.28" y="244.4" font-size="9.8" text-anchor="middle">0.05</text>
<text x="163.76" y="244.4" font-size="9.8" text-anchor="middle">0.1</text>
<text x="221.24" y="244.4" font-size="9.8" text-anchor="middle">0.15</text>
<text x="278.72" y="244.4" font-size="9.8" text-anchor="middle">0.2</text>
<text x="336.20" y="244.4" font-size="9.8" text-anchor="middle">0.25</text>
<text x="42.0" y="235.00" text-anchor="end">0.8</text>
<text x="42.0" y="203.11" text-anchor="end">1</text>
<text x="42.0" y="171.23" text-anchor="end">1.2</text>
<text x="42.0" y="139.34" text-anchor="end">1.4</text>
<text x="42.0" y="107.46" text-anchor="end">1.6</text>
<text x="42.0" y="75.57" text-anchor="end">1.8</text>
<text x="42.0" y="43.69" text-anchor="end">2</text>
<text x="42.0" y="11.80" text-anchor="end">2.2</text>
<text x="192" y="259.6" text-anchor="middle">T [GeV]</text>
<text transform="translate(11.5,119.4) rotate(-90)" text-anchor="middle" xml:space="preserve"><tspan font-family="Liberation Serif, serif" font-size="9.5">Z</tspan><tspan font-family="Liberation Serif, serif" font-size="8.6" dy="3.0">K</tspan><tspan font-family="Liberation Serif, serif" font-size="9.5" dy="-3.0">(T, </tspan><tspan font-family="Liberation Sans, sans-serif" font-size="10.5">ρ</tspan><tspan font-family="Liberation Sans, sans-serif" font-size="8.6" dy="3.0">B</tspan><tspan font-family="Liberation Serif, serif" font-size="9.5" dy="-3.0">) /Z</tspan><tspan font-family="Liberation Serif, serif" font-size="8.6" dy="3.0">K</tspan><tspan font-family="Liberation Serif, serif" font-size="9.5" dy="-3.0">(T=0,</tspan><tspan font-family="Liberation Sans, sans-serif" font-size="10.5">ρ</tspan><tspan font-family="Liberation Sans, sans-serif" font-size="8.6" dy="3.0">B</tspan><tspan font-family="Liberation Serif, serif" font-size="9.5" dy="-3.0">)</tspan></text>
<text y="20.50" xml:space="preserve"><tspan x="74.4" font-family="Liberation Sans, sans-serif" font-size="10.5">ρ</tspan><tspan x="79.8" dy="3" font-family="Liberation Sans, sans-serif" font-size="8.6">B</tspan><tspan x="88.3" dy="-3" font-family="Liberation Sans, sans-serif" font-size="9.5">/</tspan><tspan x="92.7" font-family="Liberation Sans, sans-serif" font-size="10.5">ρ</tspan><tspan x="98.1" dy="3" font-family="Liberation Sans, sans-serif" font-size="8.6">0</tspan><tspan x="104.6" dy="-3" font-size="9.9" fill='none'>=</tspan><tspan x="113.3" font-size="9.9">0.00</tspan></text>
<rect x="104.9" y="15.75" width="4.6" height="3.0" fill="#8c8c8c"/>
<text y="30.50" xml:space="preserve"><tspan x="74.4" font-family="Liberation Sans, sans-serif" font-size="10.5">ρ</tspan><tspan x="79.8" dy="3" font-family="Liberation Sans, sans-serif" font-size="8.6">B</tspan><tspan x="88.3" dy="-3" font-family="Liberation Sans, sans-serif" font-size="9.5">/</tspan><tspan x="92.7" font-family="Liberation Sans, sans-serif" font-size="10.5">ρ</tspan><tspan x="98.1" dy="3" font-family="Liberation Sans, sans-serif" font-size="8.6">0</tspan><tspan x="104.6" dy="-3" font-size="9.9">=</tspan><tspan x="113.3" font-size="9.9">0.25</tspan></text>
<text y="40.50" xml:space="preserve"><tspan x="74.4" font-family="Liberation Sans, sans-serif" font-size="10.5">ρ</tspan><tspan x="79.8" dy="3" font-family="Liberation Sans, sans-serif" font-size="8.6">B</tspan><tspan x="88.3" dy="-3" font-family="Liberation Sans, sans-serif" font-size="9.5">/</tspan><tspan x="92.7" font-family="Liberation Sans, sans-serif" font-size="10.5">ρ</tspan><tspan x="98.1" dy="3" font-family="Liberation Sans, sans-serif" font-size="8.6">0</tspan><tspan x="104.6" dy="-3" font-size="9.9">=</tspan><tspan x="113.3" font-size="9.9">0.50</tspan></text>
<text y="50.50" xml:space="preserve"><tspan x="74.4" font-family="Liberation Sans, sans-serif" font-size="10.5">ρ</tspan><tspan x="79.8" dy="3" font-family="Liberation Sans, sans-serif" font-size="8.6">B</tspan><tspan x="88.3" dy="-3" font-family="Liberation Sans, sans-serif" font-size="9.5">/</tspan><tspan x="92.7" font-family="Liberation Sans, sans-serif" font-size="10.5">ρ</tspan><tspan x="98.1" dy="3" font-family="Liberation Sans, sans-serif" font-size="8.6">0</tspan><tspan x="104.6" dy="-3" font-size="9.9">=</tspan><tspan x="113.3" font-size="9.9">0.75</tspan></text>
<text y="60.50" xml:space="preserve"><tspan x="74.4" font-family="Liberation Sans, sans-serif" font-size="10.5">ρ</tspan><tspan x="79.8" dy="3" font-family="Liberation Sans, sans-serif" font-size="8.6">B</tspan><tspan x="88.3" dy="-3" font-family="Liberation Sans, sans-serif" font-size="9.5">/</tspan><tspan x="92.7" font-family="Liberation Sans, sans-serif" font-size="10.5">ρ</tspan><tspan x="98.1" dy="3" font-family="Liberation Sans, sans-serif" font-size="8.6">0</tspan><tspan x="104.6" dy="-3" font-size="9.9" fill='none'>=</tspan><tspan x="113.3" font-size="9.9">1.00</tspan></text>
<rect x="104.9" y="55.75" width="4.6" height="3.0" fill="#8c8c8c"/>
<text y="70.50" xml:space="preserve"><tspan x="74.4" font-family="Liberation Sans, sans-serif" font-size="10.5">ρ</tspan><tspan x="79.8" dy="3" font-family="Liberation Sans, sans-serif" font-size="8.6">B</tspan><tspan x="88.3" dy="-3" font-family="Liberation Sans, sans-serif" font-size="9.5">/</tspan><tspan x="92.7" font-family="Liberation Sans, sans-serif" font-size="10.5">ρ</tspan><tspan x="98.1" dy="3" font-family="Liberation Sans, sans-serif" font-size="8.6">0</tspan><tspan x="104.6" dy="-3" font-size="9.9" fill='none'>=</tspan><tspan x="113.3" font-size="9.9">1.25</tspan></text>
<rect x="104.9" y="65.75" width="4.6" height="3.0" fill="#8c8c8c"/>
</g>
<line x1="136.1" y1="17.30" x2="164.5" y2="17.30" stroke="#ff0000" stroke-width="2.4"/>
<line x1="136.1" y1="27.30" x2="164.5" y2="27.30" stroke="#0000ff" stroke-width="2.4" stroke-dasharray="4.8 5.65" stroke-dashoffset="0"/>
<line x1="136.1" y1="37.30" x2="164.5" y2="37.30" stroke="#000000" stroke-width="2.4" stroke-dasharray="2.2 3.0" stroke-dashoffset="0"/>
<line x1="136.1" y1="47.30" x2="164.5" y2="47.30" stroke="#00ff00" stroke-width="2.4" stroke-dasharray="12.9 4.2 2 4" stroke-dashoffset="0"/>
<line x1="136.1" y1="57.30" x2="164.5" y2="57.30" stroke="#ff00ff" stroke-width="2.4" stroke-dasharray="13.1 3.7 2.3 4 2.3 4" stroke-dashoffset="23.1"/>
<line x1="136.1" y1="67.30" x2="164.5" y2="67.30" stroke="#ffff00" stroke-width="2.4" stroke-dasharray="8.6 3.96" stroke-dashoffset="0"/>
</svg></body></html>
